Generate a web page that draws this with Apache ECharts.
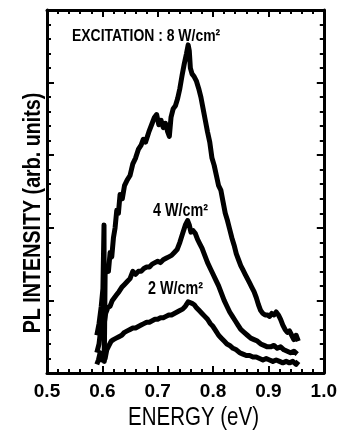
<!DOCTYPE html>
<html>
<head>
<meta charset="utf-8">
<script src="https://cdn.jsdelivr.net/npm/echarts@6/dist/echarts.min.js"></script>
<style>html,body{margin:0;padding:0;background:#fff;}#c{width:340px;height:435px;}</style>
</head>
<body>
<div id="c"></div>
<script>
// Energy (eV) / intensity (arb. units) pairs
const xTicks = [0.5, 0.6, 0.7, 0.8, 0.9, 1.0];
const xLabel = 'ENERGY (eV)';
const yLabel = 'PL INTENSITY (arb. units)';
const seriesNames = ['8 W/cm²', '4 W/cm²', '2 W/cm²'];
const titleText = 'EXCITATION : 8 W/cm²';

const energy8 = [0.590,0.594,0.598,0.601,0.603,0.6035,0.605,0.608,0.611,0.614,0.617,0.620,0.623,0.626,0.629,0.632,0.636,0.640,0.645,0.650,0.655,0.660,0.665,0.670,0.674,0.678,0.684,0.690,0.694,0.698,0.702,0.706,0.710,0.714,0.718,0.721,0.724,0.728,0.732,0.736,0.740,0.744,0.748,0.752,0.755,0.757,0.759,0.762,0.766,0.770,0.774,0.778,0.782,0.786,0.790,0.794,0.798,0.802,0.806,0.810,0.814,0.818,0.822,0.826,0.830,0.834,0.838,0.842,0.846,0.850,0.854,0.858,0.862,0.866,0.870,0.874,0.878,0.882,0.886,0.890,0.894,0.898,0.902,0.906,0.910,0.914,0.918,0.922,0.926,0.930,0.934,0.938,0.942,0.946,0.950,0.954];
const pl8 = [2.6,3.4,4.6,5.8,10.2,0.8,6.8,7.2,7.0,8.3,8.0,9.3,10.0,11.2,11.0,12.3,12.0,12.9,13.3,13.6,14.4,14.8,15.4,15.7,16.1,15.9,16.6,17.2,17.6,17.8,17.1,17.4,16.9,17.2,16.6,16.3,17.6,18.2,18.4,18.9,19.6,20.5,21.3,22.0,22.6,22.2,21.0,20.6,20.4,20.1,19.6,19.0,18.2,17.4,16.6,15.9,14.8,14.3,13.6,12.9,12.6,11.8,11.0,10.5,9.9,9.3,8.8,8.2,7.8,7.4,7.1,6.8,6.5,6.2,5.9,5.6,5.2,4.7,4.3,4.1,4.0,4.0,3.9,4.1,4.0,4.2,4.0,3.7,3.3,3.0,2.8,2.9,2.6,2.3,2.6,2.2];

const energy4 = [0.590,0.594,0.597,0.600,0.603,0.606,0.610,0.614,0.618,0.622,0.626,0.630,0.635,0.640,0.645,0.650,0.655,0.660,0.665,0.670,0.675,0.680,0.685,0.690,0.695,0.700,0.705,0.710,0.715,0.720,0.725,0.730,0.735,0.740,0.745,0.750,0.754,0.757,0.760,0.764,0.768,0.772,0.776,0.780,0.785,0.790,0.795,0.800,0.805,0.810,0.815,0.820,0.825,0.830,0.835,0.840,0.845,0.850,0.856,0.862,0.868,0.874,0.880,0.886,0.892,0.898,0.904,0.910,0.916,0.922,0.928,0.934,0.940,0.946,0.952];
const pl4 = [1.4,2.0,3.0,3.6,3.3,4.1,4.5,4.6,5.0,5.2,5.4,5.6,5.9,6.1,6.3,6.5,7.0,6.8,7.0,7.0,7.2,7.3,7.3,7.5,7.6,7.7,7.6,7.8,7.9,8.0,8.1,8.3,8.5,9.0,9.6,10.2,10.5,10.2,9.7,9.8,9.6,9.2,8.9,8.6,8.1,7.6,7.2,6.8,6.4,6.0,5.5,5.0,4.6,4.2,3.9,3.6,3.3,3.0,2.8,2.6,2.4,2.3,2.2,2.0,1.9,1.8,1.8,1.9,1.7,1.8,1.6,1.5,1.4,1.5,1.3];

const energy2 = [0.590,0.593,0.596,0.599,0.602,0.605,0.608,0.612,0.616,0.620,0.625,0.630,0.635,0.640,0.645,0.650,0.655,0.660,0.665,0.670,0.675,0.680,0.685,0.690,0.695,0.700,0.705,0.710,0.715,0.720,0.725,0.730,0.735,0.740,0.745,0.750,0.755,0.758,0.762,0.766,0.770,0.775,0.780,0.785,0.790,0.795,0.800,0.805,0.810,0.815,0.820,0.825,0.830,0.836,0.842,0.848,0.854,0.860,0.866,0.872,0.878,0.884,0.890,0.896,0.902,0.908,0.914,0.920,0.926,0.932,0.938,0.944,0.950,0.954];
const pl2 = [0.6,0.9,1.4,0.9,1.2,1.0,1.6,1.9,2.2,2.3,2.4,2.5,2.6,2.8,2.9,3.0,3.1,3.1,3.2,3.3,3.4,3.5,3.5,3.6,3.7,3.7,3.8,3.8,3.9,4.0,4.0,4.1,4.2,4.3,4.4,4.6,4.9,5.0,4.8,4.7,4.5,4.3,4.1,3.9,3.7,3.4,3.2,2.9,2.6,2.4,2.2,2.0,1.9,1.7,1.6,1.4,1.3,1.2,1.2,1.1,1.1,1.0,0.9,1.0,0.9,0.8,0.9,0.8,0.7,0.8,0.7,0.8,0.6,0.8];

const pairs = (xs, ys) => xs.map((x, i) => [x, ys[i]]);

const sans = "'Liberation Sans', Arial, sans-serif";
const squeeze = 0.82; // condensed look

const chart = echarts.init(document.getElementById('c'), null, {renderer: 'canvas'});

function xAx(pos, showLabel) {
  return {
    type: 'value', position: pos, min: 0.5, max: 1.0, interval: 0.1,
    axisLine: {show: true, onZero: false, lineStyle: {color: '#000', width: 3}},
    axisTick: {show: true, inside: true, length: 7, lineStyle: {color: '#000', width: 2}},
    minorTick: {show: true, splitNumber: 5, length: 4, lineStyle: {color: '#000', width: 2}},
    splitLine: {show: false},
    axisLabel: {show: showLabel, margin: 9, color: '#000', fontFamily: sans, fontWeight: 'bold', fontSize: 19,
      formatter: v => { const t = xTicks.find(k => Math.abs(k - v) < 1e-6); return t === undefined ? '' : t.toFixed(1); }}
  };
}
function yAx(pos) {
  return {
    type: 'value', position: pos, min: 0, max: 25, interval: 5,
    axisLine: {show: true, onZero: false, lineStyle: {color: '#000', width: 3}},
    axisTick: {show: true, inside: true, length: 7, lineStyle: {color: '#000', width: 2}},
    minorTick: {show: true, splitNumber: 5, length: 4, lineStyle: {color: '#000', width: 2}},
    splitLine: {show: false},
    axisLabel: {show: false}
  };
}

const lineSeries = (name, data) => ({
  name, type: 'line', data, xAxisIndex: 0, yAxisIndex: 0,
  showSymbol: false, symbol: 'none', smooth: false,
  lineStyle: {color: '#000', width: 5, join: 'round'},
  itemStyle: {color: '#000'}
});

const txt = (text, x, y, font, extra) => Object.assign({
  type: 'text', x, y, scaleX: squeeze,
  style: {text, fill: '#000', font, align: 'left', verticalAlign: 'middle'}
}, extra || {});

chart.setOption({
  animation: false,
  backgroundColor: '#fff',
  grid: {left: 47, right: 11, top: 10, bottom: 62},
  xAxis: [xAx('bottom', true), xAx('top', false)],
  yAxis: [yAx('left'), yAx('right')],
  series: [
    lineSeries(seriesNames[0], pairs(energy8, pl8)),
    lineSeries(seriesNames[1], pairs(energy4, pl4)),
    lineSeries(seriesNames[2], pairs(energy2, pl2))
  ],
  graphic: [
    txt(titleText, 72, 36, 'bold 17px ' + sans),
    txt(seriesNames[1], 153, 211, 'bold 17.5px ' + sans),
    txt(seriesNames[2], 148, 289, 'bold 17.5px ' + sans),
    txt(xLabel, 128, 418, '25px ' + sans),
    {type: 'text', x: 33, y: 213, rotation: Math.PI / 2, scaleX: squeeze,
      style: {text: yLabel, fill: '#000', font: 'bold 24px ' + sans, align: 'center', verticalAlign: 'middle'}}
  ]
});
</script>
</body>
</html>
